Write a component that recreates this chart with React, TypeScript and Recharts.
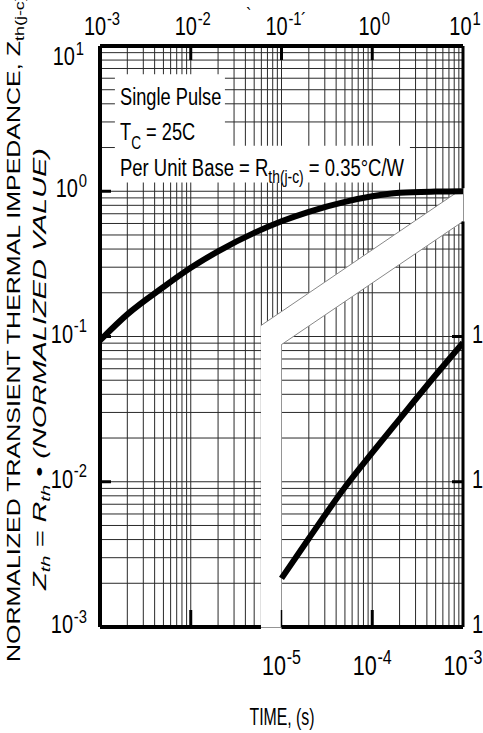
import React from 'react'
import {
  ComposedChart, Line, Area, XAxis, YAxis, CartesianGrid,
  ReferenceLine, ReferenceArea,
} from 'recharts'

// single pulse response, long times (top time axis, seconds)
const UPPER_T = [1e-3, 2e-3, 5e-3, 1e-2, 2e-2, 5e-2, 0.1, 0.2, 0.5, 1, 2, 5, 10]
const UPPER_Z = [0.094, 0.142, 0.219, 0.297, 0.386, 0.517, 0.621, 0.722, 0.846, 0.924, 0.976, 0.995, 1.0]

// single pulse response, short times (bottom time axis, seconds)
const LOWER_T = [1e-5, 2e-5, 5e-5, 1e-4, 2e-4, 5e-4, 1e-3]
const LOWER_Z = [0.00216, 0.00407, 0.00916, 0.01585, 0.027, 0.0543, 0.0906]

const TOP_TICKS = [1e-3, 1e-2, 1e-1, 1, 10]
const BOTTOM_TICKS = [1e-5, 1e-4, 1e-3]
const Z_TICKS = [1e-3, 1e-2, 1e-1, 1, 10]
const Z_RIGHT_TICKS = [1e-3, 1e-2, 1e-1]

// white break between the two time ranges (top-axis time, [low, high] impedance)
const BAND_T = [0.0594, 0.1, 0.1, 10]
const BAND_LO = [1e-3, 1e-3, 0.088, 0.62]
const BAND_HI = [0.119, 0.149, 0.149, 1.05]

// blank areas behind the notes
const NOTE_BOXES = [
  { t1: 1.46e-3, t2: 0.0238, z1: 1.9, z2: 6.4 },
  { t1: 1.46e-3, t2: 2.6, z1: 1.15, z2: 2.06 },
]

function logGrid(lo: number, hi: number) {
  const out: number[] = []
  for (let e = lo; e < hi; e++) for (let m = 1; m < 10; m++) out.push(m * Math.pow(10, e))
  out.push(Math.pow(10, hi))
  return out
}
const GRID_T = logGrid(-3, 1)
const GRID_Z = logGrid(-3, 1)

const PLOT = { left: 100, top: 46, right: 463, bottom: 627 }
const FONT = '"Liberation Sans", Arial, Helvetica, sans-serif'

const upper = UPPER_T.map((t, i) => ({ t, z: UPPER_Z[i] }))
const lower = LOWER_T.map((t, i) => ({ t, z: LOWER_Z[i] }))
const band = BAND_T.map((t, i) => ({ t, range: [BAND_LO[i], BAND_HI[i]] }))
const bandTop = [{ t: BAND_T[0], z: BAND_HI[0] }, { t: BAND_T[3], z: BAND_HI[3] }]
const bandBottom = [{ t: BAND_T[2], z: BAND_LO[2] }, { t: BAND_T[3], z: BAND_LO[3] }]

// narrow text: regular face squeezed horizontally
function Sq({ x, y, size, sx = 0.8, anchor = 'start', italic = false, rotate = false, children }: any) {
  const tf = `translate(${x} ${y}) scale(${sx} 1)${rotate ? ' rotate(-90)' : ''}`
  return (
    <text transform={tf} fontSize={size} textAnchor={anchor} fontFamily={FONT}
      fontStyle={italic ? 'italic' : 'normal'} fill="#000">
      {children}
    </text>
  )
}

function Pow({ x, y, exp, size = 25, anchor = 'middle' }: any) {
  return (
    <Sq x={x} y={y} size={size} anchor={anchor}>
      10<tspan dx={1} dy={-size * 0.42} fontSize={size * 0.74}>{exp}</tspan>
    </Sq>
  )
}

const expOf = (v: number) => Math.round(Math.log10(v))

function TopTick(props: any) {
  const { x, payload } = props
  const v = payload.value
  const inner = v > TOP_TICKS[0] && v < TOP_TICKS[TOP_TICKS.length - 1]
  return (
    <g>
      <Pow x={x + 2} y={35} exp={expOf(v)} />
      {inner && <line x1={x} x2={x} y1={PLOT.top} y2={PLOT.top + 14} stroke="#000" strokeWidth={3} />}
      {inner && v < BAND_T[0] && (
        <line x1={x} x2={x} y1={PLOT.bottom} y2={PLOT.bottom - 17} stroke="#000" strokeWidth={3} />
      )}
    </g>
  )
}

function BottomTick(props: any) {
  const { x, payload } = props
  const v = payload.value
  const last = v === BOTTOM_TICKS[BOTTOM_TICKS.length - 1]
  return (
    <g>
      <Pow x={x} y={675} exp={expOf(v)} size={27} />
      {!last && (
        <line x1={x} x2={x} y1={PLOT.bottom} y2={PLOT.bottom - 17} stroke="#000"
          strokeWidth={v === BOTTOM_TICKS[0] ? 1.5 : 3} />
      )}
    </g>
  )
}

function LeftTick(props: any) {
  const { y, payload } = props
  const v = payload.value
  const inner = v > Z_TICKS[0] && v < Z_TICKS[Z_TICKS.length - 1]
  const top = v === Z_TICKS[Z_TICKS.length - 1]
  return (
    <g>
      <Pow x={top ? 84 : 87} y={top ? y + 19 : y + 6} exp={expOf(v)} anchor="end" />
      {inner && <line x1={PLOT.left} x2={PLOT.left + 11} y1={y} y2={y} stroke="#000" strokeWidth={3} />}
    </g>
  )
}

function RightTick(props: any) {
  const { y, payload } = props
  const v = payload.value
  return (
    <g>
      <Pow x={472} y={y + 6} exp={expOf(v)} anchor="start" />
      {v > Z_RIGHT_TICKS[0] && (
        <line x1={PLOT.right} x2={PLOT.right - 11} y1={y} y2={y} stroke="#000" strokeWidth={3} />
      )}
    </g>
  )
}

const logAxis = { type: 'number' as const, scale: 'log' as const, allowDataOverflow: true, interval: 0 }

export default function App() {
  return (
    <div style={{ position: 'absolute', left: 0, top: 0, width: 483, height: 733, overflow: 'hidden', background: '#fff' }}>
      <ComposedChart width={483} height={733} margin={{ top: 10, right: 0, bottom: 56, left: 40 }}>
        <XAxis xAxisId="gx" dataKey="t" hide {...logAxis} domain={[1e-3, 10]} ticks={GRID_T} />
        <YAxis yAxisId="gy" hide {...logAxis} domain={[1e-3, 10]} ticks={GRID_Z} />
        <XAxis xAxisId="top" dataKey="t" orientation="top" height={36} {...logAxis} domain={[1e-3, 10]}
          ticks={TOP_TICKS} axisLine={false} tickLine={false} tick={<TopTick />} />
        <XAxis xAxisId="low" dataKey="t" orientation="bottom" height={50} {...logAxis} domain={[1e-7, 1e-3]}
          ticks={BOTTOM_TICKS} axisLine={false} tickLine={false} tick={<BottomTick />} />
        <YAxis yAxisId="z" orientation="left" width={60} {...logAxis} domain={[1e-3, 10]}
          ticks={Z_TICKS} axisLine={false} tickLine={false} tick={<LeftTick />} />
        <YAxis yAxisId="zr" orientation="right" width={20} {...logAxis} domain={[1e-3, 10]}
          ticks={Z_RIGHT_TICKS} axisLine={false} tickLine={false} tick={<RightTick />} />

        <CartesianGrid xAxisId="gx" yAxisId="gy" stroke="#2a2a2a" strokeWidth={1} />

        {NOTE_BOXES.map((b, i) => (
          <ReferenceArea key={i} xAxisId="top" yAxisId="z" x1={b.t1} x2={b.t2} y1={b.z1} y2={b.z2}
            fill="#fff" fillOpacity={1} stroke="none" ifOverflow="visible" />
        ))}

        <Area xAxisId="top" yAxisId="z" data={band} dataKey="range" type="linear"
          fill="#fff" fillOpacity={1} stroke="none" isAnimationActive={false} />
        <Line xAxisId="top" yAxisId="z" data={bandTop} dataKey="z" type="linear"
          stroke="#888" strokeWidth={1} dot={false} isAnimationActive={false} />
        <Line xAxisId="top" yAxisId="z" data={bandBottom} dataKey="z" type="linear"
          stroke="#888" strokeWidth={1} dot={false} isAnimationActive={false} />

        <Line xAxisId="top" yAxisId="z" data={upper} dataKey="z" type="monotone"
          stroke="#000" strokeWidth={6} dot={false} isAnimationActive={false} />
        <Line xAxisId="low" yAxisId="z" data={lower} dataKey="z" type="monotone"
          stroke="#000" strokeWidth={6} dot={false} isAnimationActive={false} />

        {/* frame */}
        <ReferenceLine xAxisId="top" yAxisId="z" y={10} stroke="#000" strokeWidth={4} />
        <ReferenceLine xAxisId="top" yAxisId="z" x={1e-3} stroke="#000" strokeWidth={4} />
        <ReferenceLine xAxisId="top" yAxisId="z" stroke="#000" strokeWidth={3}
          segment={[{ x: 10, y: 10 }, { x: 10, y: BAND_HI[3] }]} />
        <ReferenceLine xAxisId="top" yAxisId="z" stroke="#000" strokeWidth={3}
          segment={[{ x: 10, y: BAND_LO[3] }, { x: 10, y: 1e-3 }]} />
        <ReferenceLine xAxisId="top" yAxisId="z" stroke="#000" strokeWidth={4}
          segment={[{ x: 1e-3, y: 1e-3 }, { x: BAND_T[0], y: 1e-3 }]} />
        <ReferenceLine xAxisId="top" yAxisId="z" stroke="#000" strokeWidth={4}
          segment={[{ x: BAND_T[1], y: 1e-3 }, { x: 10, y: 1e-3 }]} />
      </ComposedChart>

      {/* notes and titles, drawn over the chart */}
      <svg width={483} height={733} style={{ position: 'absolute', left: 0, top: 0, pointerEvents: 'none' }}>
        <Sq x={120} y={105} size={24} sx={0.76}>Single Pulse</Sq>
        <Sq x={120} y={140} size={24} sx={0.76}>
          T<tspan dy={9} fontSize={18}>C</tspan><tspan dy={-9}> = 25C</tspan>
        </Sq>
        <Sq x={120} y={176} size={24} sx={0.77}>
          Per Unit Base = R<tspan dy={7} fontSize={18}>th(j-c)</tspan><tspan dy={-7}> = 0.35°C/W</tspan>
        </Sq>

        <Sq x={282} y={725} size={24} sx={0.66} anchor="middle">TIME, (s)</Sq>

        <Sq x={20} y={662} size={25} sx={0.72} rotate>
          NORMALIZED TRANSIENT THERMAL IMPEDANCE, Z<tspan dy={6} fontSize={18}>th(j-c)</tspan>
        </Sq>
        <Sq x={46} y={590} size={29} sx={0.66} rotate italic>
          Z<tspan dy={6} fontSize={20}>th</tspan><tspan dy={-6}> = R</tspan>
          <tspan dy={6} fontSize={20}>th</tspan><tspan dy={-6}> • (NORMALIZED VALUE)</tspan>
        </Sq>

        <Sq x={246} y={22} size={20}>`</Sq>
        <Sq x={301} y={27} size={20}>´</Sq>
      </svg>
    </div>
  )
}
